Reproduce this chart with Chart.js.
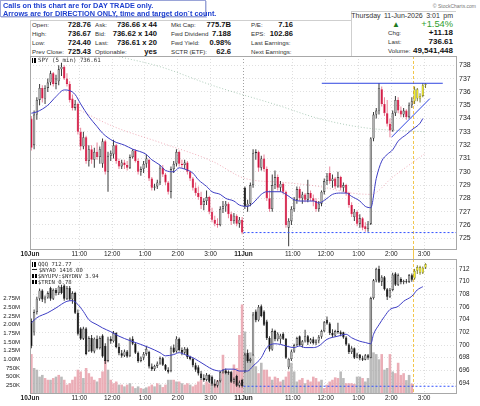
<!DOCTYPE html>
<html>
<head>
<meta charset="utf-8">
<script src="https://cdn.jsdelivr.net/npm/chart.js"></script>
<style>
  body { margin: 0; width: 480px; height: 406px; position: relative; overflow: hidden; background: #fff;
         font-family: 'Liberation Sans', Arial, sans-serif; color: #222; }
  .t { position: absolute; white-space: nowrap; line-height: 9px; }
  .lb { font-size: 6.2px; color: #333; }
  .vl { font-size: 7.6px; font-weight: bold; color: #111; }
  .vr { font-size: 8px; font-weight: bold; color: #111; }
  #note { position: absolute; left: 0; top: 0; width: 206px; height: 17px; box-sizing: border-box; background: #fff;
          border: 1px solid #9aa4d8; box-shadow: 1px 1px 0 #d0d4ea; z-index: 3; }
  #note div { position: absolute; left: 2px; font-size: 7.3px; font-weight: bold; color: #1d3fcf; white-space: nowrap; line-height: 8px; }
  .box { position: absolute; box-sizing: border-box; border: 1px solid #cfcfcf; }
  canvas { position: absolute; left: 0; }
  .lg { position: absolute; left: 32px; font-family: 'DejaVu Sans Mono', monospace; color: #333; white-space: nowrap; z-index: 2; }
  .ic { display: inline-block; width: 4px; height: 5px; margin-right: 2px; vertical-align: -1px;
        background: linear-gradient(90deg, #000 0 1px, transparent 1px 2px, #000 2px 4px); }
  .id { display: inline-block; width: 5px; height: 1px; margin-right: 2px; vertical-align: 2px; background: #222; }
  .ib { display: inline-block; width: 5px; height: 4px; margin-right: 1px; vertical-align: 0;
        background: linear-gradient(90deg, #000 0 2px, transparent 2px 3px, #000 3px 5px); }
</style>
</head>
<body>
<div id="note">
  <div style="top:1px">Calls on this chart are for DAY TRADE only.</div>
  <div style="top:9px">Arrows are for DIRECTION ONLY, time and target don`t count.</div>
</div>

<div class="box" style="left:30px;top:20px;width:322px;height:37px;border-right:none"></div>
<div class="box" style="left:351px;top:11px;width:105px;height:46px;border-right:none;border-bottom:none"></div>
<div class="t" style="right:4px;top:2px;font-size:5px;color:#777">&copy; StockCharts.com</div>

<div class="t lb" style="left:32px;top:19.5px">Open:</div>
<div class="t lb" style="left:32px;top:28.5px">High:</div>
<div class="t lb" style="left:32px;top:37.5px">Low:</div>
<div class="t lb" style="left:32px;top:46.5px">Prev Close:</div>
<div class="t vl" style="right:389px;top:19.5px">728.76</div>
<div class="t vl" style="right:389px;top:28.5px">736.67</div>
<div class="t vl" style="right:389px;top:37.5px">724.40</div>
<div class="t vl" style="right:389px;top:46.5px">725.43</div>

<div class="t lb" style="left:95px;top:19.5px">Ask:</div>
<div class="t lb" style="left:95px;top:28.5px">Bid:</div>
<div class="t lb" style="left:95px;top:37.5px">Last:</div>
<div class="t lb" style="left:95px;top:46.5px">Optionable:</div>
<div class="t vl" style="right:323px;top:19.5px">736.66 x 44</div>
<div class="t vl" style="right:323px;top:28.5px">736.62 x 140</div>
<div class="t vl" style="right:323px;top:37.5px">736.61 x 20</div>
<div class="t vl" style="right:323px;top:46.5px">yes</div>

<div class="t lb" style="left:171px;top:19.5px">Mkt Cap:</div>
<div class="t lb" style="left:171px;top:28.5px">Fwd Dividend</div>
<div class="t lb" style="left:171px;top:37.5px">Fwd Yield:</div>
<div class="t lb" style="left:171px;top:46.5px">SCTR (ETF):</div>
<div class="t vl" style="right:249px;top:19.5px">775.7B</div>
<div class="t vl" style="right:249px;top:28.5px">7.188</div>
<div class="t vl" style="right:249px;top:37.5px">0.98%</div>
<div class="t vl" style="right:249px;top:46.5px">62.6</div>

<div class="t lb" style="left:251px;top:19.5px">P/E:</div>
<div class="t lb" style="left:251px;top:28.5px">EPS:</div>
<div class="t lb" style="left:251px;top:37.5px">Last Earnings:</div>
<div class="t lb" style="left:251px;top:46.5px">Next Earnings:</div>
<div class="t vl" style="right:187px;top:19.5px">7.16</div>
<div class="t vl" style="right:187px;top:28.5px">102.86</div>

<div class="t" style="right:27px;top:11.2px;font-size:7px;color:#333;word-spacing:1.5px">Thursday 11-Jun-2026 3:01 pm</div>
<div class="t" style="left:392px;top:19.8px;font-size:8px;color:#1e7b1e">&#9650;</div>
<div class="t" style="right:27px;top:19.3px;font-size:9.3px;color:#2e9e2e;line-height:10px">+1.54%</div>
<div class="t lb" style="left:388px;top:28.2px">Chg:</div>
<div class="t lb" style="left:388px;top:36.7px">Last:</div>
<div class="t lb" style="left:388px;top:45.5px">Volume:</div>
<div class="t vr" style="right:27px;top:28.2px">+11.18</div>
<div class="t vr" style="right:27px;top:36.7px">736.61</div>
<div class="t vr" style="right:27px;top:45.5px">49,541,448</div>

<canvas id="spy" width="480" height="216" style="top:46px"></canvas>
<canvas id="qqq" width="480" height="157" style="top:249px"></canvas>

<div class="lg" style="top:56.5px;font-size:5.8px;line-height:7px"><span class="ic"></span>SPY (5 min) 736.61</div>
<div class="lg" style="top:261px;font-size:5.6px;line-height:6px">
  <div><span class="ic"></span>QQQ 712.77</div>
  <div><span class="id"></span>$NYAD 1416.00</div>
  <div><span class="ib"></span>$NYUPV:$NYDNV 3.94</div>
  <div><span class="ib"></span>$TRIN 0.78</div>
</div>

<script>
// ---------- axes ----------
const xTickPos = [0, 18, 30, 42, 54, 66, 78, 96, 108, 120, 132, 144];
const xTickLabels = ['10Jun', '11:00', '12:00', '1:00', '2:00', '3:00', '11Jun', '11:00', '12:00', '1:00', '2:00', '3:00'];
const spyTicks = [725, 726, 727, 728, 729, 730, 731, 732, 733, 734, 735, 736, 737, 738];
const qqqTicks = [694, 696, 698, 700, 702, 704, 706, 708, 710, 712];
const volTicks = [0.25, 0.5, 0.75, 1, 1.25, 1.5, 1.75, 2, 2.25, 2.5, 2.75];
const volTickLabels = ['250K', '500K', '750K', '1.00M', '1.25M', '1.50M', '1.75M', '2.00M', '2.25M', '2.50M', '2.75M'];

// ---------- SPY 5 min bars (10 Jun 9:30 .. 11 Jun 3:00) ----------
const spyPrevClose0 = 732.5;
const spyOpen = [
  734.0, 732.0, 734.3, 735.4, 736.3, 735.5, 736.3, 736.7, 737.4, 736.6, 736.8, 737.7,
  737.9, 737.0, 736.6, 735.5, 734.8, 735.1, 733.0, 731.9, 732.6, 730.8, 731.7, 730.9,
  731.5, 731.1, 730.6, 732.3, 730.0, 731.2, 731.3, 732.0, 730.8, 730.4, 730.7, 730.5,
  730.3, 731.1, 731.6, 730.8, 730.0, 730.2, 730.6, 730.9, 729.5, 728.8, 728.9, 729.2,
  730.3, 729.8, 729.2, 728.5, 730.2, 730.6, 731.5, 730.6, 730.5, 730.7, 730.0, 729.5,
  728.8, 728.4, 728.1, 727.5, 727.8, 728.1, 727.0, 726.4, 726.1, 726.0, 727.2, 727.4,
  727.6, 726.8, 726.3, 726.7, 726.1, 726.4,
  728.8, 727.4, 727.6, 729.0, 731.4, 731.5, 730.3, 731.0, 730.2, 728.0, 727.2, 729.0,
  729.6, 728.8, 729.1, 728.5, 725.8, 726.3, 727.2, 727.9, 728.7, 728.0, 728.3, 727.9,
  728.4, 728.0, 727.8, 727.2, 727.6, 728.5, 729.3, 729.9, 729.3, 729.5, 728.9, 729.6,
  728.8, 729.0, 728.4, 727.5, 726.6, 727.0, 726.1, 726.5, 725.9, 725.7, 726.1, 732.5,
  734.3, 734.6, 736.2, 735.1, 734.4, 733.6, 733.1, 734.4, 735.4, 734.6, 734.3, 734.6,
  734.1, 735.0, 735.3, 736.2, 735.5, 735.7, 736.5
];
const spyHigh = [
  734.2, 734.6, 735.6, 736.6, 736.5, 736.5, 737.0, 737.6, 737.5, 737.3, 738.0, 738.2,
  738.0, 737.4, 736.8, 735.8, 735.4, 735.2, 733.3, 733.0, 732.7, 732.0, 732.0, 731.8,
  732.2, 731.9, 732.5, 732.4, 731.5, 731.6, 732.4, 732.1, 731.0, 730.9, 730.9, 730.8,
  731.3, 731.7, 731.7, 731.0, 730.4, 730.8, 731.3, 731.0, 729.6, 729.1, 729.4, 730.5,
  730.5, 729.9, 729.3, 730.4, 730.8, 731.7, 731.6, 730.9, 730.9, 730.8, 730.1, 729.6,
  729.2, 728.9, 728.5, 728.0, 728.6, 728.2, 727.3, 726.7, 726.5, 727.4, 727.8, 727.8,
  727.7, 727.0, 726.9, 726.8, 726.6, 726.6,
  728.9, 727.9, 729.2, 731.7, 731.7, 731.6, 731.2, 731.3, 730.4, 728.6, 729.8, 730.1,
  729.8, 729.3, 729.2, 728.6, 726.5, 727.4, 728.1, 728.9, 728.9, 728.5, 728.4, 729.4,
  728.6, 728.3, 728.0, 727.8, 728.6, 729.5, 729.9, 730.4, 729.8, 729.6, 730.0, 729.7,
  729.2, 729.1, 728.5, 727.7, 727.2, 727.1, 726.8, 726.6, 726.2, 726.3, 732.6, 734.5,
  734.8, 736.67, 736.4, 735.6, 735.4, 734.0, 734.6, 735.7, 735.6, 734.9, 734.8, 734.7,
  735.2, 735.6, 736.4, 736.3, 735.9, 736.67, 736.67
];
const spyLow = [
  731.6, 731.7, 733.9, 735.0, 735.2, 735.1, 736.0, 736.5, 736.4, 736.2, 736.5, 737.2,
  736.9, 736.4, 735.2, 734.6, 734.6, 732.8, 731.6, 731.7, 730.6, 730.4, 730.6, 730.3,
  730.9, 730.6, 730.3, 729.8, 728.5, 730.8, 731.0, 730.6, 730.2, 730.2, 730.2, 730.1,
  730.2, 731.0, 730.7, 729.8, 729.7, 729.9, 730.3, 729.3, 728.6, 728.6, 728.7, 729.0,
  729.6, 729.0, 728.3, 728.0, 729.9, 730.4, 730.4, 730.3, 730.2, 729.8, 729.3, 728.6,
  728.2, 727.9, 727.2, 727.1, 727.5, 726.8, 726.2, 725.9, 725.8, 725.9, 726.9, 727.0,
  726.5, 726.0, 726.1, 725.9, 725.8, 725.3,
  727.2, 727.0, 727.4, 728.8, 730.9, 730.0, 730.1, 730.0, 727.8, 727.0, 727.0, 728.7,
  728.6, 728.5, 728.3, 725.8, 724.4, 726.0, 727.0, 727.6, 727.8, 727.6, 727.7, 727.7,
  727.8, 727.4, 727.0, 727.0, 727.4, 728.3, 729.0, 729.1, 728.8, 728.7, 728.8, 728.6,
  728.5, 728.2, 727.3, 726.6, 726.3, 725.9, 725.8, 725.6, 725.5, 725.5, 726.0, 732.3,
  734.0, 734.3, 734.9, 734.2, 733.4, 732.6, 733.0, 734.2, 734.4, 734.1, 734.1, 733.9,
  734.0, 734.8, 735.1, 735.3, 735.2, 735.6, 736.3
];
const spyClose = [
  731.8, 734.3, 735.4, 736.3, 735.5, 736.3, 736.7, 737.4, 736.6, 737.0, 737.7, 737.9,
  737.0, 736.6, 735.4, 734.8, 735.1, 733.0, 731.9, 732.6, 730.8, 731.7, 730.9, 731.5,
  731.1, 731.7, 732.3, 730.0, 731.2, 731.4, 732.0, 730.8, 730.4, 730.7, 730.5, 730.3,
  731.1, 731.6, 730.8, 730.0, 730.2, 730.6, 731.0, 729.5, 728.8, 728.9, 729.2, 730.3,
  729.8, 729.2, 728.5, 730.2, 730.6, 731.5, 730.6, 730.5, 730.7, 730.0, 729.5, 728.8,
  728.4, 728.1, 727.5, 727.8, 728.1, 727.0, 726.4, 726.1, 726.0, 727.2, 727.4, 727.6,
  726.8, 726.3, 726.7, 726.1, 726.4, 725.43,
  727.4, 727.6, 729.0, 731.4, 731.5, 730.3, 731.0, 730.2, 728.0, 727.2, 729.0, 729.6,
  728.8, 729.1, 728.5, 726.0, 726.3, 727.2, 727.9, 728.7, 728.0, 728.3, 727.9, 728.4,
  728.0, 727.8, 727.2, 727.6, 728.5, 729.3, 729.7, 729.3, 729.5, 728.9, 729.6, 728.8,
  729.0, 728.4, 727.5, 726.8, 727.0, 726.1, 726.5, 725.8, 725.7, 726.1, 732.5, 734.3,
  734.6, 736.3, 735.1, 734.4, 733.6, 733.1, 734.4, 735.4, 734.6, 734.3, 734.6, 734.1,
  735.0, 735.3, 736.2, 735.5, 735.7, 736.5, 736.61
];
// moving averages as [bar, value]
const spyMa = [[0, 734.4], [2, 734.5], [6, 735.0], [9, 735.65], [12, 736.15], [14, 736.1], [16, 735.8], [18, 735.1],
  [21, 734.15], [24, 733.4], [26, 732.9], [30, 732.3], [34, 732.0], [37, 731.7], [42, 731.3], [44, 730.9], [47, 730.5],
  [49, 730.1], [52, 730.0], [54, 730.3], [56, 730.2], [59, 729.9], [61, 729.4], [64, 728.9], [66, 728.5], [69, 728.3],
  [71, 728.0], [74, 727.8], [76, 727.5], [79, 727.4], [81, 727.65], [84, 728.3], [86, 728.5], [89, 728.5], [91, 728.5],
  [93, 728.3], [96, 727.9], [98, 727.8], [100, 727.8], [103, 727.8], [105, 727.65], [108, 728.0], [110, 728.3],
  [113, 728.4], [115, 728.4], [117, 728.15], [120, 727.8], [122, 727.4], [124, 727.3], [126, 729.5], [128, 730.8],
  [130, 731.3], [132, 731.65], [134, 732.3], [137, 732.8], [139, 733.15], [142, 733.65], [143, 734.0]];
const spyMaSlow = [[16, 734.8], [30, 733.4], [47, 732.2], [66, 730.8], [78, 729.5], [92, 729.2], [105, 728.9],
  [117, 728.4], [124, 728.3], [132, 729.6], [144, 731.4]];
const spyMaLong = [[31, 738.7], [47, 737.9], [66, 736.5], [90, 735.0], [105, 734.0], [122, 733.3], [144, 733.0]];
// drawn lines, in slot units
const spyResist = [[106.6, 736.65], [150.8, 736.65]];
const spyTrend = [[132.1, 732.6], [146.1, 735.5]];
const spyPrevLine = [[78, 725.43], [156, 725.43]];

// ---------- QQQ 5 min bars ----------
const qqqPrevClose0 = 699.0;
const qqqOpen = [
  703.8, 702.0, 705.2, 707.3, 708.6, 707.2, 707.5, 709.0, 707.3, 708.7, 708.2, 709.2,
  709.4, 707.3, 709.0, 707.2, 708.2, 705.1, 702.6, 701.0, 702.6, 699.1, 701.1, 699.0,
  701.0, 699.5, 701.5, 699.9, 697.5, 701.0, 700.6, 701.9, 699.7, 698.7, 698.3, 699.0,
  698.3, 701.0, 700.2, 698.8, 697.5, 698.0, 698.6, 698.9, 696.6, 696.2, 696.7, 697.1,
  697.9, 696.9, 696.1, 695.9, 699.6, 699.0, 701.0, 699.2, 698.8, 699.4, 698.1, 697.8,
  696.8, 696.5, 695.5, 694.8, 694.5, 695.3, 695.0, 693.9, 693.6, 694.3, 695.7, 696.0,
  695.6, 695.8, 694.2, 695.1, 693.6, 694.5,
  695.9, 698.8, 697.5, 698.5, 705.3, 703.9, 706.1, 705.3, 703.7, 701.1, 699.3, 702.2,
  700.9, 700.9, 701.8, 701.0, 696.5, 697.8, 699.0, 700.0, 701.4, 700.0, 700.6, 701.4,
  700.4, 700.9, 700.3, 700.7, 701.3, 702.2, 704.0, 703.4, 701.9, 701.5, 702.2, 702.0,
  702.0, 701.2, 700.1, 698.9, 699.5, 698.0, 698.5, 697.9, 697.7, 698.4, 698.0, 707.4,
  710.2, 712.0, 710.0, 710.7, 708.8, 707.6, 708.7, 711.3, 709.5, 710.4, 709.9, 710.1,
  710.0, 711.0, 710.5, 711.7, 712.3, 711.4, 712.2
];
const qqqHigh = [
  704.2, 705.6, 707.6, 708.9, 708.8, 707.8, 708.5, 709.2, 708.9, 709.0, 709.4, 709.5,
  709.6, 709.3, 709.3, 708.5, 708.4, 705.6, 702.8, 702.9, 702.8, 701.4, 701.6, 701.2,
  701.5, 701.4, 701.7, 700.3, 701.3, 701.4, 702.2, 702.0, 700.3, 699.2, 699.3, 699.2,
  701.2, 701.4, 700.4, 699.0, 698.2, 698.9, 699.9, 699.1, 697.1, 696.9, 697.4, 698.2,
  698.1, 697.0, 696.5, 699.8, 700.1, 701.4, 701.2, 699.6, 699.7, 699.6, 698.3, 698.0,
  697.2, 696.8, 695.9, 695.4, 695.6, 695.4, 695.2, 694.6, 694.5, 695.9, 696.2, 696.3,
  696.0, 695.9, 694.9, 695.3, 694.4, 694.7,
  698.8, 699.3, 698.0, 705.2, 705.6, 706.3, 706.4, 705.5, 704.0, 701.4, 702.6, 702.4,
  702.0, 701.8, 702.0, 701.1, 697.9, 699.3, 700.2, 701.3, 701.5, 700.8, 702.4, 701.6,
  701.1, 701.3, 700.9, 701.6, 702.4, 703.8, 704.5, 703.6, 702.5, 702.4, 703.5, 702.3,
  702.1, 701.4, 700.3, 699.8, 699.6, 698.8, 698.6, 698.3, 698.6, 698.6, 707.6, 710.4,
  712.2, 712.5, 711.0, 710.9, 709.0, 709.0, 711.4, 711.5, 711.3, 710.7, 710.3, 710.4,
  711.2, 711.3, 712.0, 712.6, 712.5, 712.4, 712.9
];
const qqqLow = [
  699.5, 701.5, 704.8, 707.0, 706.8, 706.6, 707.3, 707.0, 707.1, 707.8, 707.9, 708.0,
  707.0, 707.1, 707.0, 706.5, 704.9, 701.5, 700.8, 700.8, 698.4, 698.9, 698.8, 698.7,
  699.3, 699.3, 698.0, 697.0, 697.3, 700.2, 700.4, 699.5, 698.4, 698.0, 698.1, 698.0,
  698.1, 700.0, 698.6, 697.2, 697.3, 697.6, 698.3, 696.3, 695.9, 695.9, 696.4, 696.9,
  696.7, 695.9, 695.5, 695.7, 698.7, 698.8, 699.0, 698.4, 698.5, 697.8, 697.6, 696.5,
  695.8, 695.2, 694.5, 694.2, 694.3, 694.0, 693.6, 693.3, 693.3, 694.1, 695.5, 695.4,
  695.3, 694.0, 693.9, 693.4, 693.3, 693.3,
  695.6, 697.2, 697.2, 698.3, 703.6, 703.7, 704.4, 703.0, 700.8, 699.0, 699.1, 700.6,
  700.6, 700.2, 700.8, 697.8, 696.2, 697.5, 698.8, 699.8, 699.8, 699.6, 700.4, 700.0,
  700.2, 700.1, 700.0, 700.3, 701.0, 702.0, 703.2, 701.6, 701.2, 701.3, 701.8, 701.4,
  701.0, 699.9, 698.6, 698.6, 697.8, 697.9, 697.6, 697.5, 697.6, 697.7, 697.9, 707.2,
  709.9, 709.8, 709.3, 708.6, 707.1, 707.4, 708.5, 709.3, 709.3, 709.6, 709.6, 709.7,
  709.8, 710.0, 710.3, 711.2, 711.1, 711.2, 712.0
];
const qqqClose = [
  699.8, 705.2, 707.3, 708.6, 707.2, 707.5, 708.2, 707.3, 708.7, 708.2, 709.2, 708.2,
  707.3, 709.0, 707.2, 708.2, 705.1, 701.8, 701.0, 702.6, 698.6, 701.1, 699.0, 701.0,
  699.5, 701.1, 698.2, 697.5, 701.0, 700.6, 701.9, 699.7, 698.7, 698.3, 699.0, 698.2,
  701.0, 700.2, 698.8, 697.5, 698.0, 698.6, 699.4, 696.6, 696.2, 696.7, 697.1, 697.9,
  696.9, 696.1, 695.8, 699.5, 698.9, 701.0, 699.2, 698.8, 699.4, 698.1, 697.8, 696.8,
  696.1, 695.5, 694.8, 694.5, 695.3, 694.2, 693.9, 693.6, 694.3, 695.7, 696.0, 695.6,
  695.8, 694.2, 694.6, 693.6, 694.1, 693.5,
  698.5, 697.5, 697.8, 704.8, 703.9, 706.0, 704.6, 703.2, 701.1, 699.3, 702.2, 700.9,
  701.8, 701.5, 701.0, 698.0, 697.8, 699.0, 700.0, 701.1, 700.0, 700.6, 701.4, 700.4,
  700.9, 700.3, 700.7, 701.3, 702.2, 703.6, 703.4, 701.9, 701.5, 702.2, 702.0, 701.7,
  701.2, 700.1, 698.9, 699.5, 698.0, 698.5, 697.9, 697.7, 698.4, 698.0, 707.4, 710.2,
  712.0, 710.0, 710.7, 708.8, 707.6, 708.7, 711.1, 709.5, 711.0, 709.9, 710.1, 710.0,
  711.0, 710.3, 711.7, 712.3, 711.4, 712.2, 712.77
];
// volume in millions, and whether the bar is drawn pink (down)
const qqqVol = [
  1.15, 0.75, 0.70, 0.50, 0.55, 0.46, 0.41, 0.41, 0.46, 0.50, 0.55, 0.50,
  0.41, 0.27, 0.31, 0.41, 0.50, 0.70, 0.65, 0.46, 0.75, 0.60, 0.50, 0.41,
  0.36, 0.46, 0.65, 0.98, 0.70, 0.41, 0.31, 0.36, 0.27, 0.27, 0.22, 0.27,
  0.31, 0.22, 0.17, 0.22, 0.17, 0.15, 0.19, 0.22, 0.27, 0.22, 0.31, 0.27,
  0.20, 0.27, 0.41, 0.41, 0.41, 0.36, 0.36, 0.31, 0.27, 0.31, 0.27, 0.22,
  0.27, 0.36, 0.41, 0.27, 0.36, 0.31, 0.36, 0.30, 0.40, 0.45, 1.13, 0.70,
  0.65, 0.60, 0.85, 0.75, 1.70, 2.58,
  1.80, 1.13, 1.20, 1.13, 0.80, 0.60, 0.90, 0.70, 0.70, 0.50, 0.41, 0.50,
  0.46, 0.36, 0.41, 0.50, 0.65, 0.90, 0.65, 0.36, 0.41, 0.46, 0.31, 0.41,
  0.36, 0.50, 0.46, 0.36, 0.41, 0.17, 0.27, 0.36, 0.41, 0.48, 0.46, 0.65,
  0.46, 0.31, 0.31, 0.31, 0.29, 0.50, 0.50, 0.46, 0.36, 0.46, 2.75, 1.20,
  1.15, 1.00, 1.15, 0.70, 0.75, 1.15, 0.65, 0.60, 0.90, 0.55, 0.60, 0.40,
  0.55, 0.30
];
const qqqVolDown = [
  1, 0, 0, 0, 0, 1, 1, 0, 1, 0, 1, 0,
  1, 1, 1, 1, 1, 1, 1, 0, 1, 1, 1, 1,
  0, 1, 1, 1, 0, 1, 1, 1, 0, 1, 0, 1,
  0, 1, 0, 0, 1, 0, 0, 1, 1, 0, 1, 0,
  1, 1, 0, 0, 1, 0, 1, 0, 1, 1, 0, 1,
  1, 1, 1, 0, 1, 1, 0, 1, 1, 0, 1, 0,
  0, 1, 1, 1, 1, 1,
  0, 0, 0, 0, 0, 1, 0, 1, 1, 1, 0, 1,
  1, 1, 0, 1, 1, 0, 0, 0, 1, 1, 0, 1,
  1, 1, 1, 1, 0, 1, 1, 1, 1, 1, 1, 0,
  0, 1, 1, 1, 1, 0, 0, 1, 0, 0, 0, 0,
  0, 0, 1, 0, 0, 1, 0, 1, 1, 1, 1, 0,
  0, 1
];
const qqqMa = [[0, 703.5], [2, 704.3], [6, 705.1], [9, 705.85], [13, 706.9], [15, 707.0], [17, 706.4], [19, 705.3],
  [21, 704.0], [24, 703.2], [26, 702.7], [29, 702.1], [32, 701.4], [36, 700.7], [40, 700.1], [43, 699.6], [47, 698.8],
  [49, 698.3], [52, 698.5], [54, 698.8], [56, 698.5], [59, 698.0], [61, 697.5], [64, 696.7], [66, 696.2], [69, 695.9],
  [71, 696.2], [74, 696.2], [76, 695.9], [79, 695.9], [81, 696.7], [84, 698.0], [86, 699.6], [89, 700.2], [91, 700.1],
  [93, 699.85], [96, 699.6], [98, 699.85], [100, 699.6], [103, 699.6], [105, 699.85], [108, 700.9], [112, 701.4],
  [115, 701.7], [117, 701.15], [120, 700.6], [122, 700.4], [124, 700.2], [125, 701.7], [127, 703.2], [129, 704.5],
  [131, 705.6], [134, 706.1], [136, 706.9], [139, 707.7], [141, 708.7], [143, 709.2]];
const qqqPrevLine = [[78, 693.5], [156, 693.5]];

// ---------- drawing ----------
const FONT = "'Liberation Sans', Arial, sans-serif";
const SLOTS = 156;          // two full sessions of 5 minute bars
const HIGHLIGHT_FROM = 140; // bars after the marker are highlighted

function candles(o, h, l, c, prev0, withRed, axisId) {
  const bodies = [], wicks = [], fill = [], edge = [], wickCol = [];
  o.forEach((open, i) => {
    const close = c[i];
    const prev = i ? c[i - 1] : prev0;
    const hollow = close >= open;
    const red = withRed && close < prev;
    let f, e, w;
    if (i >= HIGHLIGHT_FROM) { f = '#f6ef22'; e = '#7c7c2c'; w = '#7c7c2c'; }
    else if (red) { f = hollow ? '#f7c9d2' : '#d2123e'; e = hollow ? '#e0607c' : '#d2123e'; w = '#e8849a'; }
    else { f = hollow ? '#b0b0b0' : '#111'; e = hollow ? '#2a2a2a' : '#111'; w = '#3a3a3a'; }
    bodies.push({ x: i + 0.5, y: [open, close === open ? close + 0.03 : close] });
    wicks.push({ x: i + 0.5, y: [l[i], h[i]] });
    fill.push(f); edge.push(e); wickCol.push(w);
  });
  const common = { type: 'bar', yAxisID: axisId, grouped: false, categoryPercentage: 1, barPercentage: 1, inflateAmount: 0, borderSkipped: false };
  return [
    { ...common, data: bodies, backgroundColor: fill, borderColor: edge, borderWidth: 0.6, maxBarThickness: 2.4, order: 1 },
    { ...common, data: wicks, backgroundColor: wickCol, borderWidth: 0, maxBarThickness: 1, order: 2 }
  ];
}

function line(pairs, color, extra) {
  return {
    type: 'line', yAxisID: 'y',
    data: pairs.map(([x, y]) => ({ x, y })),
    borderColor: color, borderWidth: 1, pointRadius: 0, tension: 0, order: 0, ...extra
  };
}
const maLine = (pairs, color, extra) =>
  line(pairs.map(([i, v]) => [i + 0.5, v]), color, { cubicInterpolationMode: 'monotone', ...extra });

function xScale() {
  return {
    type: 'linear', min: 0, max: SLOTS, offset: false,
    afterBuildTicks: ax => { ax.ticks = xTickPos.map(value => ({ value })); },
    afterFit: ax => { ax.height = 12; },
    grid: { offset: false, drawTicks: false, color: ctx => ctx.index === 6 ? '#a0a0a0' : '#dedede' },
    border: { display: false, dash: [1, 2] },
    ticks: {
      autoSkip: false, maxRotation: 0, padding: 0, color: '#222',
      font: ctx => ({ family: FONT, size: 6.5, weight: /Jun/.test(xTickLabels[ctx.index] || '') ? 'bold' : 'normal' }),
      callback: (v, i) => xTickLabels[i]
    }
  };
}

function priceScale(min, max, ticks, size) {
  return {
    type: 'linear', position: 'right', min, max,
    afterBuildTicks: ax => { ax.ticks = ticks.map(value => ({ value })); },
    afterFit: ax => { ax.width = 23; },
    grid: { color: '#e0e0e0', drawTicks: false },
    border: { display: false, dash: [1, 2] },
    ticks: { padding: 2, color: '#222', font: { family: FONT, size } }
  };
}

const panelDecor = {
  id: 'panelDecor',
  beforeDatasetsDraw(chart, args, opts) {
    const { ctx, chartArea: a, scales: { x } } = chart;
    const px = Math.round(x.getPixelForValue(HIGHLIGHT_FROM)) + 0.5;
    ctx.save();
    ctx.strokeStyle = '#f2c64c';
    ctx.lineWidth = 1;
    ctx.setLineDash([3, 2]);
    ctx.beginPath();
    ctx.moveTo(px, opts.fromTop ? 0 : a.top);
    ctx.lineTo(px, opts.fromTop ? a.bottom : chart.height);
    ctx.stroke();
    ctx.restore();
  },
  afterDatasetsDraw(chart) {
    const { ctx, chartArea: a } = chart;
    ctx.save();
    ctx.strokeStyle = '#a8a8a8';
    ctx.lineWidth = 1;
    ctx.strokeRect(Math.round(a.left) + 0.5, Math.round(a.top) + 0.5, Math.round(a.width) - 1, Math.round(a.height) - 1);
    ctx.restore();
  }
};

const baseOptions = {
  responsive: false, animation: false, events: [],
  plugins: { legend: { display: false }, tooltip: { enabled: false } }
};

new Chart(document.getElementById('spy'), {
  type: 'bar',
  data: {
    datasets: [
      maLine(spyMa, '#3d3dc4'),
      line(spyResist, '#2f45e0'),
      line(spyTrend, '#2f45e0'),
      line(spyPrevLine, '#3050ff', { borderDash: [2, 2] }),
      ...candles(spyOpen, spyHigh, spyLow, spyClose, spyPrevClose0, true, 'y'),
      maLine(spyMaSlow, 'rgba(230,120,140,0.6)', { borderDash: [1, 2], order: 3 }),
      maLine(spyMaLong, 'rgba(120,170,140,0.6)', { borderDash: [1, 2], order: 3 })
    ]
  },
  options: {
    ...baseOptions,
    layout: { padding: { left: 30, top: 10, right: 0, bottom: 0 } },
    plugins: { ...baseOptions.plugins, panelDecor: { fromTop: false } },
    scales: { x: xScale(), y: priceScale(724.12, 738.7, spyTicks, 7) }
  },
  plugins: [panelDecor]
});

new Chart(document.getElementById('qqq'), {
  type: 'bar',
  data: {
    datasets: [
      maLine(qqqMa, '#3d3dc4'),
      line(qqqPrevLine, '#3050ff', { borderDash: [2, 2] }),
      ...candles(qqqOpen, qqqHigh, qqqLow, qqqClose, qqqPrevClose0, false, 'y'),
      {
        type: 'bar', yAxisID: 'yv', grouped: false, categoryPercentage: 1, barPercentage: 1, inflateAmount: 0,
        data: qqqVol.map((v, i) => ({ x: i + 0.5, y: v })),
        backgroundColor: qqqVolDown.map(d => d ? 'rgba(232,160,170,0.85)' : 'rgba(170,170,170,0.8)'),
        maxBarThickness: 2.6, order: 3
      }
    ]
  },
  options: {
    ...baseOptions,
    layout: { padding: { left: 0, top: 10, right: 0, bottom: 0 } },
    plugins: { ...baseOptions.plugins, panelDecor: { fromTop: true } },
    scales: {
      x: xScale(),
      y: priceScale(692.28, 713.57, qqqTicks, 6.3),
      yv: {
        type: 'linear', position: 'left', min: 0, max: 3.89,
        afterBuildTicks: ax => { ax.ticks = volTicks.map(value => ({ value })); },
        afterFit: ax => { ax.width = 30; },
        grid: { display: false },
        border: { display: false },
        ticks: { padding: 2, color: '#222', font: { family: FONT, size: 6 }, callback: (v, i) => volTickLabels[i] }
      }
    }
  },
  plugins: [panelDecor]
});
</script>
</body>
</html>
